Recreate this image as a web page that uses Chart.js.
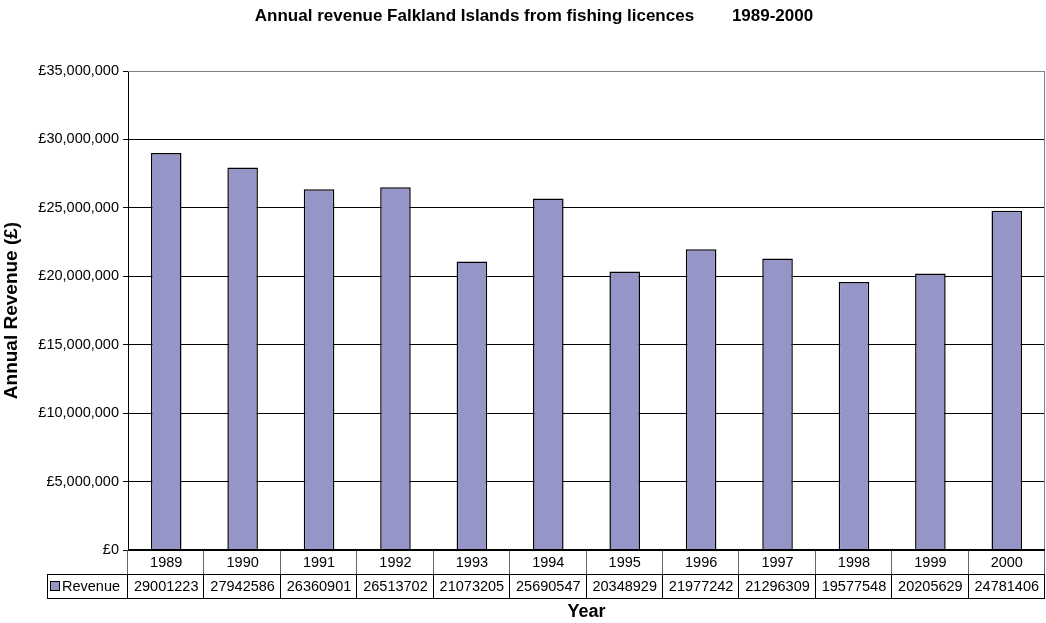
<!DOCTYPE html>
<html>
<head>
<meta charset="utf-8">
<script src="https://cdn.jsdelivr.net/npm/chart.js@4"></script>
<style>
  body { margin: 0; background: #fff; }
  canvas { display: block; }
</style>
</head>
<body>
<canvas id="revenue-chart" width="1046" height="623"></canvas>
<script>
// Chart data
const chartTitle = 'Annual revenue Falkland Islands from fishing licences        1989-2000';
const years = ['1989', '1990', '1991', '1992', '1993', '1994', '1995', '1996', '1997', '1998', '1999', '2000'];
const revenue = [29001223, 27942586, 26360901, 26513702, 21073205, 25690547, 20348929, 21977242, 21296309, 19577548, 20205629, 24781406];
const seriesName = 'Revenue';
const yTitle = 'Annual Revenue (£)';
const xTitle = 'Year';

const barColor = '#9595c8';
const font = '"Liberation Sans", Arial, sans-serif';

// Draws the title, the data table under the plot and the x title
const tablePlugin = {
    id: 'dataTable',
    afterDraw(chart) {
        const ctx = chart.ctx;
        const area = chart.chartArea;
        const xs = chart.scales.x;
        const rowH = 24;
        const legendLeft = 47;
        const top = area.bottom;

        ctx.save();

        // title
        ctx.fillStyle = '#000';
        ctx.font = 'bold 17px ' + font;
        ctx.textAlign = 'center';
        ctx.textBaseline = 'middle';
        ctx.fillText(chartTitle, 534, 16);

        // plot border top/right
        ctx.strokeStyle = '#808080';
        ctx.lineWidth = 1;
        ctx.beginPath();
        ctx.moveTo(area.left, area.top + 0.5);
        ctx.lineTo(area.right - 0.5, area.top + 0.5);
        ctx.lineTo(area.right - 0.5, area.bottom);
        ctx.stroke();

        // table lines
        const step = (area.right - area.left) / years.length;
        ctx.strokeStyle = '#666';
        ctx.beginPath();
        for (let i = 0; i <= years.length; i++) {
            const x = Math.round(area.left + i * step) - 0.5;
            ctx.moveTo(x, top);
            ctx.lineTo(x, top + rowH);
        }
        ctx.stroke();
        ctx.strokeStyle = '#000';
        ctx.beginPath();
        ctx.moveTo(legendLeft + 0.5, top + rowH);
        ctx.lineTo(legendLeft + 0.5, top + 2 * rowH + 0.5);
        ctx.moveTo(legendLeft, top + rowH + 0.5);
        ctx.lineTo(area.right, top + rowH + 0.5);
        ctx.moveTo(legendLeft, top + 2 * rowH + 0.5);
        ctx.lineTo(area.right, top + 2 * rowH + 0.5);
        for (let i = 0; i <= years.length; i++) {
            const x = Math.round(area.left + i * step) - 0.5;
            ctx.moveTo(x, top + rowH);
            ctx.lineTo(x, top + 2 * rowH + 0.5);
        }
        ctx.stroke();

        // x axis line
        ctx.lineWidth = 2;
        ctx.beginPath();
        ctx.moveTo(area.left, top);
        ctx.lineTo(area.right, top);
        ctx.stroke();

        // cell text
        ctx.font = '14.5px ' + font;
        ctx.textAlign = 'center';
        years.forEach((y, i) => {
            const cx = xs.getPixelForValue(i);
            ctx.fillText(y, cx, top + rowH / 2 + 1);
            ctx.fillText(String(revenue[i]), cx, top + rowH * 1.5 + 1);
        });

        // legend key
        ctx.fillStyle = barColor;
        ctx.fillRect(50.5, top + rowH + 7.5, 9, 9);
        ctx.lineWidth = 1;
        ctx.strokeRect(50.5, top + rowH + 7.5, 9, 9);
        ctx.fillStyle = '#000';
        ctx.textAlign = 'left';
        ctx.fillText(seriesName, 62, top + rowH * 1.5 + 1);

        // x title
        ctx.font = 'bold 18px ' + font;
        ctx.textAlign = 'center';
        ctx.fillText(xTitle, (area.left + area.right) / 2, 612);

        ctx.restore();
    }
};

const revenueCtx = document.getElementById('revenue-chart').getContext('2d');
const revenueChart = new Chart(revenueCtx, {
    type: 'bar',
    data: {
        labels: years,
        datasets: [{
            label: seriesName,
            data: revenue,
            backgroundColor: barColor,
            borderColor: '#000',
            borderWidth: 1.5,
            borderSkipped: 'bottom',
            barPercentage: 0.4,
            categoryPercentage: 1
        }]
    },
    options: {
        responsive: false,
        animation: false,
        layout: { padding: { top: 71, right: 1, bottom: 73, left: 0 } },
        plugins: {
            legend: { display: false },
            title: { display: false },
            tooltip: { enabled: false }
        },
        scales: {
            x: {
                display: false
            },
            y: {
                min: 0,
                max: 35000000,
                afterFit(scale) { scale.width = 128; },
                ticks: {
                    stepSize: 5000000,
                    color: '#000',
                    font: { family: font, size: 14.5 },
                    padding: 4,
                    callback: v => '£' + v.toLocaleString('en-GB')
                },
                grid: {
                    color: ctx => ctx.tick && ctx.tick.value === 35000000 ? '#808080' : '#000',
                    tickColor: '#000',
                    tickLength: 5
                },
                border: { color: '#000' },
                title: {
                    display: true,
                    text: yTitle,
                    color: '#000',
                    font: { family: font, size: 19, weight: 'bold' },
                    padding: { top: 0, bottom: 2 }
                }
            }
        }
    },
    plugins: [tablePlugin]
});
</script>
</body>
</html>
